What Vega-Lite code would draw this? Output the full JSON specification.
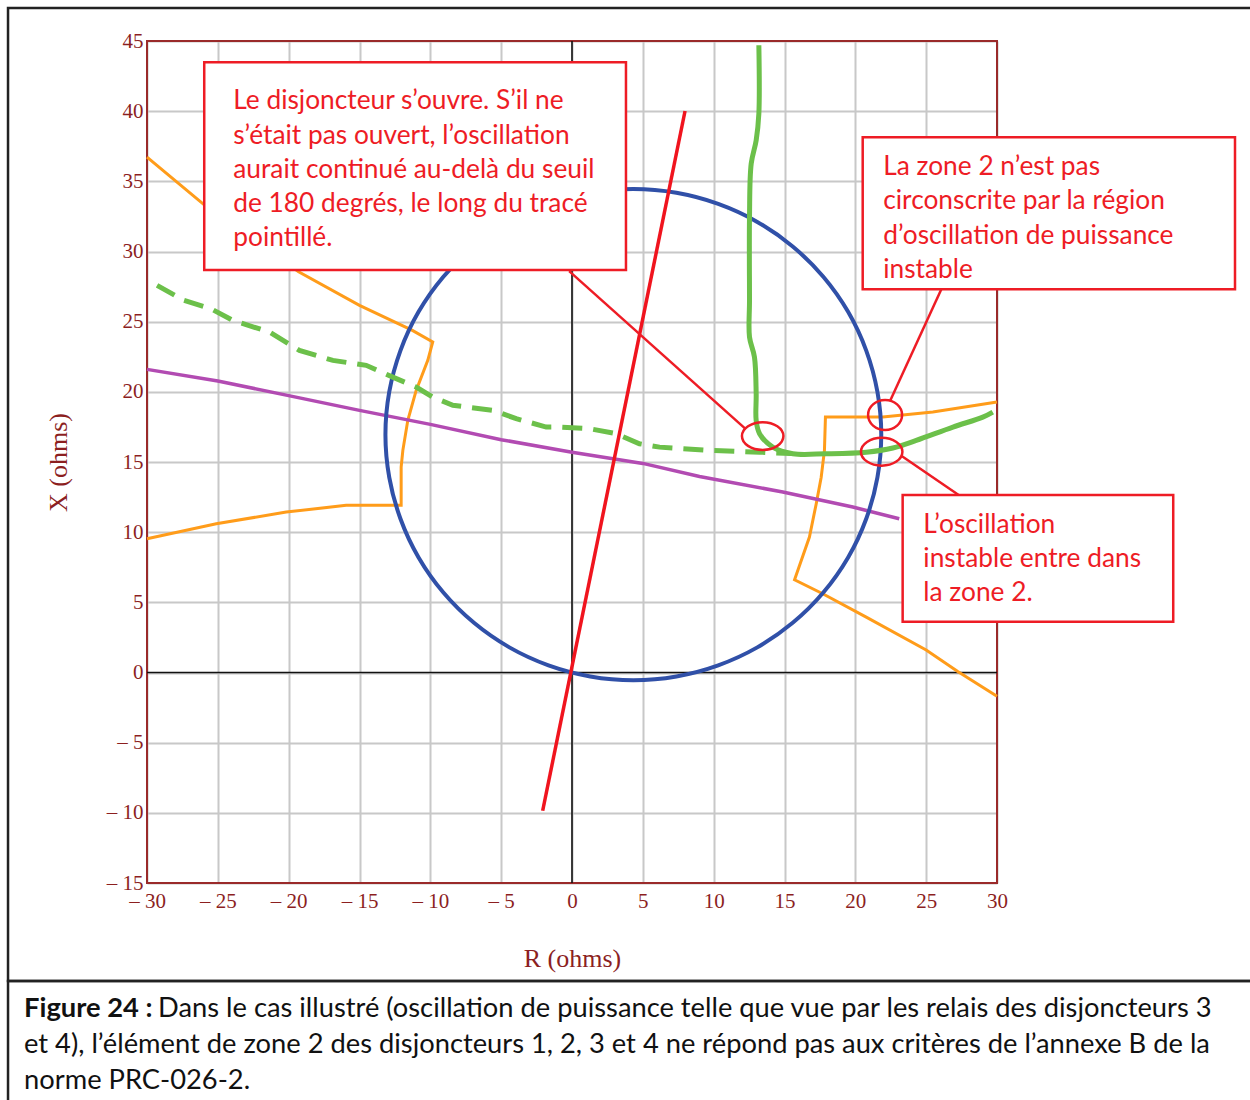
{
  "$schema": "https://vega.github.io/schema/vega-lite/v6.json",
  "width": 850,
  "height": 842,
  "autosize": {"type": "none"},
  "padding": {"left": 147, "top": 41, "right": 253, "bottom": 217},
  "background": "white",
  "view": {"stroke": null},
  "datasets": {
    "frame": [
      {"x": -39.81, "x2": 49, "y": 47.35, "y2": -21.98},
      {"x": -39.81, "x2": 49, "y": -21.98, "y2": -32}
    ],
    "plotbox": [{"x": -30, "x2": 30, "y": -15, "y2": 45}],
    "orangeA": [
      {"i": 0, "x": -30, "y": 36.73}, {"i": 1, "x": -26, "y": 33.36}, {"i": 2, "x": -19.3, "y": 28.56},
      {"i": 3, "x": -15, "y": 26.16}, {"i": 4, "x": -11.3, "y": 24.4}, {"i": 5, "x": -9.83, "y": 23.55},
      {"i": 6, "x": -10.18, "y": 22.24}, {"i": 7, "x": -11.0, "y": 20.1}, {"i": 8, "x": -11.59, "y": 17.97},
      {"i": 9, "x": -11.94, "y": 15.83}, {"i": 10, "x": -12.06, "y": 14.64}, {"i": 11, "x": -12.06, "y": 11.91},
      {"i": 12, "x": -15.94, "y": 11.91}, {"i": 13, "x": -20.17, "y": 11.43}, {"i": 14, "x": -25.11, "y": 10.6},
      {"i": 15, "x": -30, "y": 9.53}
    ],
    "orangeB": [
      {"i": 0, "x": 30, "y": 19.27}, {"i": 1, "x": 25.47, "y": 18.56}, {"i": 2, "x": 21.94, "y": 18.2},
      {"i": 3, "x": 17.89, "y": 18.2}, {"i": 4, "x": 17.82, "y": 15.83}, {"i": 5, "x": 17.59, "y": 13.92},
      {"i": 6, "x": 17.24, "y": 12.03}, {"i": 7, "x": 16.76, "y": 9.65}, {"i": 8, "x": 15.71, "y": 6.61},
      {"i": 9, "x": 17.7, "y": 5.61}, {"i": 10, "x": 20.77, "y": 3.95}, {"i": 11, "x": 25, "y": 1.6},
      {"i": 12, "x": 27.23, "y": 0.07}, {"i": 13, "x": 30, "y": -1.7}
    ],
    "magenta": [
      {"i": 0, "x": -30, "y": 21.6}, {"i": 1, "x": -25, "y": 20.77}, {"i": 2, "x": -20, "y": 19.73},
      {"i": 3, "x": -15, "y": 18.68}, {"i": 4, "x": -10, "y": 17.68}, {"i": 5, "x": -5, "y": 16.59},
      {"i": 6, "x": 0, "y": 15.7}, {"i": 7, "x": 5, "y": 14.9}, {"i": 8, "x": 9, "y": 13.97},
      {"i": 9, "x": 14.88, "y": 12.86}, {"i": 10, "x": 19.82, "y": 11.79}, {"i": 11, "x": 23.1, "y": 10.96}
    ],
    "circle": [
      {"i": 0, "x": 21.83, "y": 16.95}, {"i": 1, "x": 21.56, "y": 19.99}, {"i": 2, "x": 20.77, "y": 22.94},
      {"i": 3, "x": 19.49, "y": 25.70}, {"i": 4, "x": 17.74, "y": 28.20}, {"i": 5, "x": 15.58, "y": 30.36},
      {"i": 6, "x": 13.08, "y": 32.11}, {"i": 7, "x": 10.32, "y": 33.39}, {"i": 8, "x": 7.37, "y": 34.18},
      {"i": 9, "x": 4.33, "y": 34.45}, {"i": 10, "x": 1.29, "y": 34.18}, {"i": 11, "x": -1.66, "y": 33.39},
      {"i": 12, "x": -4.42, "y": 32.11}, {"i": 13, "x": -6.92, "y": 30.36}, {"i": 14, "x": -9.08, "y": 28.20},
      {"i": 15, "x": -10.83, "y": 25.70}, {"i": 16, "x": -12.11, "y": 22.94}, {"i": 17, "x": -12.90, "y": 19.99},
      {"i": 18, "x": -13.17, "y": 16.95}, {"i": 19, "x": -12.90, "y": 13.91}, {"i": 20, "x": -12.11, "y": 10.96},
      {"i": 21, "x": -10.83, "y": 8.20}, {"i": 22, "x": -9.08, "y": 5.70}, {"i": 23, "x": -6.92, "y": 3.54},
      {"i": 24, "x": -4.42, "y": 1.79}, {"i": 25, "x": -1.66, "y": 0.51}, {"i": 26, "x": 1.29, "y": -0.28},
      {"i": 27, "x": 4.33, "y": -0.55}, {"i": 28, "x": 7.37, "y": -0.28}, {"i": 29, "x": 10.32, "y": 0.51},
      {"i": 30, "x": 13.08, "y": 1.79}, {"i": 31, "x": 15.58, "y": 3.54}, {"i": 32, "x": 17.74, "y": 5.70},
      {"i": 33, "x": 19.49, "y": 8.20}, {"i": 34, "x": 20.77, "y": 10.96}, {"i": 35, "x": 21.56, "y": 13.91}
    ],
    "greenDash": [
      {"i": 0, "x": -29.29, "y": 27.59}, {"i": 1, "x": -27.4, "y": 26.52}, {"i": 2, "x": -25.5, "y": 25.93},
      {"i": 3, "x": -23.94, "y": 25.09}, {"i": 4, "x": -21.35, "y": 24.26}, {"i": 5, "x": -19.24, "y": 22.95},
      {"i": 6, "x": -16.88, "y": 22.24}, {"i": 7, "x": -14.53, "y": 21.89}, {"i": 8, "x": -12.65, "y": 21.05},
      {"i": 9, "x": -11.0, "y": 20.34}, {"i": 10, "x": -9.83, "y": 19.63}, {"i": 11, "x": -8.41, "y": 19.04},
      {"i": 12, "x": -5.59, "y": 18.68}, {"i": 13, "x": -3.94, "y": 18.09}, {"i": 14, "x": -1.82, "y": 17.49},
      {"i": 15, "x": -0.88, "y": 17.49}, {"i": 16, "x": 1.24, "y": 17.37}, {"i": 17, "x": 3.12, "y": 17.02},
      {"i": 18, "x": 4.76, "y": 16.3}, {"i": 19, "x": 6.18, "y": 16.06}, {"i": 20, "x": 9.71, "y": 15.83},
      {"i": 21, "x": 13.24, "y": 15.7}, {"i": 22, "x": 15.5, "y": 15.6}
    ],
    "greenSolid": [
      {"i": 0, "x": 13.19, "y": 44.7}, {"i": 1, "x": 13.19, "y": 39.83}, {"i": 2, "x": 13.0, "y": 37.92},
      {"i": 3, "x": 12.65, "y": 36.26}, {"i": 4, "x": 12.53, "y": 32.46}, {"i": 5, "x": 12.53, "y": 26.52},
      {"i": 6, "x": 12.53, "y": 23.9}, {"i": 7, "x": 12.88, "y": 22.48}, {"i": 8, "x": 13.0, "y": 19.87},
      {"i": 9, "x": 13.0, "y": 17.97}, {"i": 10, "x": 13.24, "y": 17.02}, {"i": 11, "x": 14.17, "y": 16.06},
      {"i": 12, "x": 15.59, "y": 15.59}, {"i": 13, "x": 17.94, "y": 15.59}, {"i": 14, "x": 20.77, "y": 15.7},
      {"i": 15, "x": 22.65, "y": 16.0}, {"i": 16, "x": 24.3, "y": 16.54}, {"i": 17, "x": 26.89, "y": 17.49},
      {"i": 18, "x": 29.0, "y": 18.2}, {"i": 19, "x": 29.7, "y": 18.56}
    ],
    "redLine": [{"i": 0, "x": -2.07, "y": -9.85}, {"i": 1, "x": 7.98, "y": 40.01}],
    "callouts": [
      {"x": -0.2, "y": 28.6, "x2": 12.21, "y2": 17.4},
      {"x": 26.2, "y": 27.6, "x2": 22.45, "y2": 19.35},
      {"x": 23.27, "y": 15.43, "x2": 27.5, "y2": 12.5}
    ],
    "boxes": [
      {"x": -25.96, "x2": 3.81, "y": 43.48, "y2": 28.68},
      {"x": 20.52, "x2": 46.8, "y": 38.14, "y2": 27.31},
      {"x": 23.34, "x2": 42.44, "y": 12.65, "y2": 3.62}
    ],
    "boxText": [
      {"x": -23.91, "y": 40.13, "t": "Le disjoncteur s’ouvre. S’il ne"},
      {"x": -23.91, "y": 37.69, "t": "s’était pas ouvert, l’oscillation"},
      {"x": -23.91, "y": 35.24, "t": "aurait continué au-delà du seuil"},
      {"x": -23.91, "y": 32.80, "t": "de 180 degrés, le long du tracé"},
      {"x": -23.91, "y": 30.36, "t": "pointillé."},
      {"x": 21.97, "y": 35.45, "t": "La zone 2 n’est pas"},
      {"x": 21.97, "y": 33.00, "t": "circonscrite par la région"},
      {"x": 21.97, "y": 30.55, "t": "d’oscillation de puissance"},
      {"x": 21.97, "y": 28.10, "t": "instable"},
      {"x": 24.8, "y": 9.92, "t": "L’oscillation"},
      {"x": 24.8, "y": 7.50, "t": "instable entre dans"},
      {"x": 24.8, "y": 5.12, "t": "la zone 2."}
    ],
    "capBold": [{"x": -38.68, "y": -24.55, "t": "Figure 24 :"}],
    "capText": [
      {"x": -29.22, "y": -24.55, "t": "Dans le cas illustré (oscillation de puissance telle que vue par les relais des disjoncteurs 3"},
      {"x": -38.68, "y": -27.11, "t": "et 4), l’élément de zone 2 des disjoncteurs 1, 2, 3 et 4 ne répond pas aux critères de l’annexe B de la"},
      {"x": -38.68, "y": -29.68, "t": "norme PRC-026-2."}
    ],
    "ellA": [{"x": 13.46, "y": 16.85}, {"x": 21.86, "y": 15.73}],
    "ellB": [{"x": 22.1, "y": 18.35}]
  },
  "layer": [
    {
      "data": {"name": "plotbox"},
      "mark": {"type": "rect", "filled": false, "stroke": "#9a2a2a", "strokeWidth": 2},
      "encoding": {
        "x": {
          "field": "x", "type": "quantitative",
          "scale": {"domain": [-30, 30], "nice": false, "zero": false},
          "axis": {
            "values": [-30, -25, -20, -15, -10, -5, 0, 5, 10, 15, 20, 25, 30],
            "grid": true, "gridColor": "#c8c8c8", "gridWidth": 2,
            "domain": false, "ticks": false,
            "labelFont": "Liberation Serif", "labelFontSize": 21, "labelColor": "#8c1f1f",
            "labelPadding": 7, "labelFlush": false, "labelOverlap": false,
            "labelExpr": "datum.value < 0 ? '– ' + (-datum.value) : '' + datum.value",
            "title": "R (ohms)", "titleFont": "Liberation Serif", "titleFontSize": 26,
            "titleFontWeight": "normal", "titleColor": "#8c1f1f",
            "titleX": 425, "titleY": 75, "titleBaseline": "middle", "titleAlign": "center"
          }
        },
        "x2": {"field": "x2"},
        "y": {
          "field": "y", "type": "quantitative",
          "scale": {"domain": [-15, 45], "nice": false, "zero": false},
          "axis": {
            "values": [-15, -10, -5, 0, 5, 10, 15, 20, 25, 30, 35, 40, 45],
            "grid": true, "gridColor": "#c8c8c8", "gridWidth": 2,
            "domain": false, "ticks": false,
            "labelFont": "Liberation Serif", "labelFontSize": 21, "labelColor": "#8c1f1f",
            "labelPadding": 4, "labelFlush": false, "labelOverlap": false,
            "labelExpr": "datum.value < 0 ? '– ' + (-datum.value) : '' + datum.value",
            "title": "X (ohms)", "titleFont": "Liberation Serif", "titleFontSize": 26,
            "titleFontWeight": "normal", "titleColor": "#8c1f1f",
            "titleX": -89, "titleY": 421, "titleAngle": 270, "titleBaseline": "middle", "titleAlign": "center"
          }
        },
        "y2": {"field": "y2"}
      }
    },
    {
      "data": {"name": "frame"},
      "mark": {"type": "rect", "filled": false, "stroke": "#222222", "strokeWidth": 2.5},
      "encoding": {
        "x": {"field": "x", "type": "quantitative"}, "x2": {"field": "x2"},
        "y": {"field": "y", "type": "quantitative"}, "y2": {"field": "y2"}
      }
    },
    {
      "data": {"values": [{"x": 0}]},
      "mark": {"type": "rule", "color": "#111111", "strokeWidth": 1.6},
      "encoding": {"x": {"field": "x", "type": "quantitative"}}
    },
    {
      "data": {"values": [{"y": 0}]},
      "mark": {"type": "rule", "color": "#111111", "strokeWidth": 1.6},
      "encoding": {"y": {"field": "y", "type": "quantitative"}}
    },
    {
      "data": {"name": "orangeA"},
      "mark": {"type": "line", "color": "#ff9c1a", "strokeWidth": 3},
      "encoding": {"x": {"field": "x", "type": "quantitative"}, "y": {"field": "y", "type": "quantitative"}, "order": {"field": "i"}}
    },
    {
      "data": {"name": "orangeB"},
      "mark": {"type": "line", "color": "#ff9c1a", "strokeWidth": 3},
      "encoding": {"x": {"field": "x", "type": "quantitative"}, "y": {"field": "y", "type": "quantitative"}, "order": {"field": "i"}}
    },
    {
      "data": {"name": "magenta"},
      "mark": {"type": "line", "color": "#b24bb2", "strokeWidth": 3.5},
      "encoding": {"x": {"field": "x", "type": "quantitative"}, "y": {"field": "y", "type": "quantitative"}, "order": {"field": "i"}}
    },
    {
      "data": {"name": "circle"},
      "mark": {"type": "line", "color": "#3050a8", "strokeWidth": 4, "interpolate": "cardinal-closed"},
      "encoding": {"x": {"field": "x", "type": "quantitative"}, "y": {"field": "y", "type": "quantitative"}, "order": {"field": "i"}}
    },
    {
      "data": {"name": "greenDash"},
      "mark": {"type": "line", "color": "#6cc04a", "strokeWidth": 5, "strokeDash": [20, 11]},
      "encoding": {"x": {"field": "x", "type": "quantitative"}, "y": {"field": "y", "type": "quantitative"}, "order": {"field": "i"}}
    },
    {
      "data": {"name": "greenSolid"},
      "mark": {"type": "line", "color": "#6cc04a", "strokeWidth": 5, "interpolate": "catmull-rom"},
      "encoding": {"x": {"field": "x", "type": "quantitative"}, "y": {"field": "y", "type": "quantitative"}, "order": {"field": "i"}}
    },
    {
      "data": {"name": "redLine"},
      "mark": {"type": "line", "color": "#f0141e", "strokeWidth": 3.5},
      "encoding": {"x": {"field": "x", "type": "quantitative"}, "y": {"field": "y", "type": "quantitative"}, "order": {"field": "i"}}
    },
    {
      "data": {"name": "callouts"},
      "mark": {"type": "rule", "color": "#ee1c25", "strokeWidth": 2.5},
      "encoding": {
        "x": {"field": "x", "type": "quantitative"}, "x2": {"field": "x2"},
        "y": {"field": "y", "type": "quantitative"}, "y2": {"field": "y2"}
      }
    },
    {
      "data": {"name": "boxes"},
      "mark": {"type": "rect", "fill": "white", "stroke": "#ee1c25", "strokeWidth": 2.5},
      "encoding": {
        "x": {"field": "x", "type": "quantitative"}, "x2": {"field": "x2"},
        "y": {"field": "y", "type": "quantitative"}, "y2": {"field": "y2"}
      }
    },
    {
      "data": {"name": "boxText"},
      "mark": {"type": "text", "font": "Lato", "fontSize": 26.3, "color": "#ee1c25", "align": "left", "baseline": "alphabetic"},
      "encoding": {"x": {"field": "x", "type": "quantitative"}, "y": {"field": "y", "type": "quantitative"}, "text": {"field": "t"}}
    },
    {
      "data": {"name": "capBold"},
      "mark": {"type": "text", "font": "Lato", "fontSize": 27.3, "fontWeight": "bold", "color": "#111111", "align": "left", "baseline": "alphabetic"},
      "encoding": {"x": {"field": "x", "type": "quantitative"}, "y": {"field": "y", "type": "quantitative"}, "text": {"field": "t"}}
    },
    {
      "data": {"name": "capText"},
      "mark": {"type": "text", "font": "Lato", "fontSize": 27.3, "color": "#111111", "align": "left", "baseline": "alphabetic"},
      "encoding": {"x": {"field": "x", "type": "quantitative"}, "y": {"field": "y", "type": "quantitative"}, "text": {"field": "t"}}
    },
    {
      "data": {"name": "ellA"},
      "mark": {"type": "point", "shape": "M-1,0A1,0.67,0,1,1,1,0A1,0.67,0,1,1,-1,0Z", "size": 1720, "filled": false, "stroke": "#ee1c25", "strokeWidth": 2.5, "opacity": 1},
      "encoding": {"x": {"field": "x", "type": "quantitative"}, "y": {"field": "y", "type": "quantitative"}}
    },
    {
      "data": {"name": "ellB"},
      "mark": {"type": "point", "shape": "M-1,0A1,0.88,0,1,1,1,0A1,0.88,0,1,1,-1,0Z", "size": 1156, "filled": false, "stroke": "#ee1c25", "strokeWidth": 2.5, "opacity": 1},
      "encoding": {"x": {"field": "x", "type": "quantitative"}, "y": {"field": "y", "type": "quantitative"}}
    }
  ]
}
